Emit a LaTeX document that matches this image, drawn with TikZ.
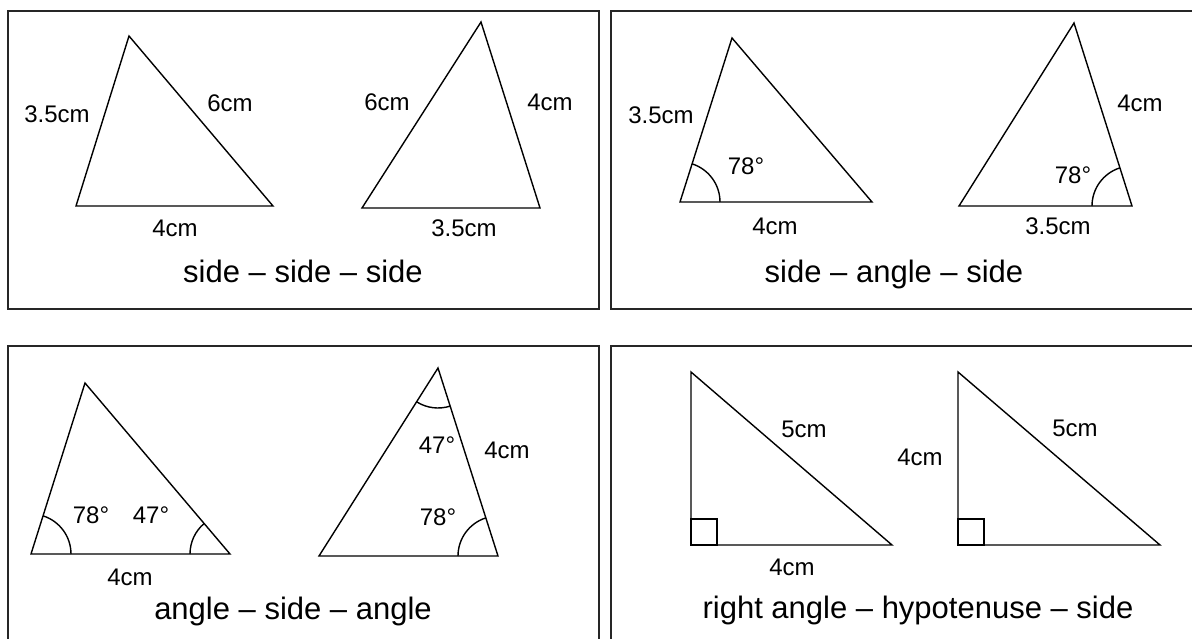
\documentclass[tikz,border=0pt]{standalone}
\usepackage{fontspec}
\setmainfont{Liberation Sans}
\usetikzlibrary{angles}
\tikzset{
  frm/.style={draw=black!85, line width=2pt},
  tri/.style={draw, line width=1.4pt, line join=miter},
  lbl/.style={font=\fontsize{24}{28}\selectfont, inner sep=0pt, text depth=0pt},
  ttl/.style={font=\fontsize{31}{36}\selectfont, inner sep=0pt, anchor=base},
  ang/.style={draw, line width=1.4pt, angle radius=40pt},
  sq/.style={draw, line width=1.4pt}
}
\begin{document}
\begin{tikzpicture}[x=1pt, y=1pt]
\useasboundingbox (0,0) rectangle (1192,-639);
\clip (0,0) rectangle (1192,-639);
% frames
\draw[frm] (8,-11) rectangle (599,-309);
\draw[frm] (611,-11) rectangle (1200,-309);
\draw[frm] (8,-346) rectangle (599,-650);
\draw[frm] (611,-346) rectangle (1200,-650);
% side - side - side
\coordinate (a1) at (76,-206); \coordinate (b1) at (273,-206); \coordinate (c1) at (129,-36);
\coordinate (a2) at (362,-208); \coordinate (b2) at (540,-208); \coordinate (c2) at (481,-22);
\draw[tri] (a1) -- (b1) -- (c1) -- cycle;
\draw[tri] (a2) -- (b2) -- (c2) -- cycle;
\node[lbl] (s1l) at (57,-114) {3.5cm};
\node[lbl] (s1r) at (230,-103) {6cm};
\node[lbl] (s1b) at (175,-228) {4cm};
\node[lbl] (s2l) at (387,-102) {6cm};
\node[lbl] (s2r) at (550,-102) {4cm};
\node[lbl] (s2b) at (464,-228) {3.5cm};
\node[ttl] (sss) at (303,-283) {side – side – side};
% side - angle - side
\coordinate (a3) at (680,-202); \coordinate (b3) at (872,-202); \coordinate (c3) at (732,-38);
\coordinate (a4) at (959,-206); \coordinate (b4) at (1132,-206); \coordinate (c4) at (1074,-23);
\draw[tri] (a3) -- (b3) -- (c3) -- cycle;
\draw[tri] (a4) -- (b4) -- (c4) -- cycle;
\pic[ang] {angle=b3--a3--c3};
\pic[ang] {angle=c4--b4--a4};
\node[lbl] (s3l) at (661,-115) {3.5cm};
\node[lbl] (g3) at (746,-166) {78°};
\node[lbl] (s3b) at (775,-226) {4cm};
\node[lbl] (s4r) at (1140,-103) {4cm};
\node[lbl] (g4) at (1073,-175) {78°};
\node[lbl] (s4b) at (1058,-226) {3.5cm};
\node[ttl] (sas) at (894,-283) {side – angle – side};
% angle - side - angle
\coordinate (a5) at (31,-554); \coordinate (b5) at (230,-554); \coordinate (c5) at (85,-383);
\coordinate (a6) at (319,-556); \coordinate (b6) at (498,-556); \coordinate (c6) at (438,-368);
\draw[tri] (a5) -- (b5) -- (c5) -- cycle;
\draw[tri] (a6) -- (b6) -- (c6) -- cycle;
\pic[ang] {angle=b5--a5--c5};
\pic[ang] {angle=c5--b5--a5};
\pic[ang] {angle=a6--c6--b6};
\pic[ang] {angle=c6--b6--a6};
\node[lbl] (g5l) at (91,-515) {78°};
\node[lbl] (g5r) at (151,-515) {47°};
\node[lbl] (s5b) at (130,-577) {4cm};
\node[lbl] (g6t) at (437,-445) {47°};
\node[lbl] (s6r) at (507,-450) {4cm};
\node[lbl] (g6b) at (438,-517) {78°};
\node[ttl] (asa) at (293,-619) {angle – side – angle};
% right angle - hypotenuse - side
\coordinate (a7) at (691,-545); \coordinate (b7) at (892,-545); \coordinate (c7) at (691,-372);
\coordinate (a8) at (958,-545); \coordinate (b8) at (1160,-545); \coordinate (c8) at (958,-372);
\draw[tri] (a7) -- (b7) -- (c7) -- cycle;
\draw[tri] (a8) -- (b8) -- (c8) -- cycle;
\draw[sq] (a7) rectangle ++(26,26);
\draw[sq] (a8) rectangle ++(26,26);
\node[lbl] (h7) at (804,-429) {5cm};
\node[lbl] (s7b) at (792,-567) {4cm};
\node[lbl] (s8l) at (920,-457) {4cm};
\node[lbl] (h8) at (1075,-428) {5cm};
\node[ttl] (rhs) at (918,-618) {right angle – hypotenuse – side};
\end{tikzpicture}
\end{document}
